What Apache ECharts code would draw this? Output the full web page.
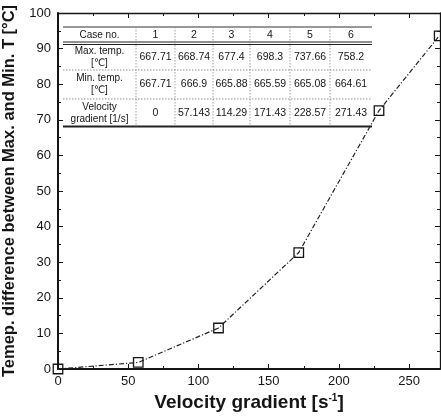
<!DOCTYPE html>
<html>
<head>
<meta charset="utf-8">
<script src="https://cdn.jsdelivr.net/npm/echarts@6/dist/echarts.min.js"></script>
<style>
  html, body { margin: 0; padding: 0; background: #fff; }
  #chart { width: 441px; height: 417px; }
</style>
</head>
<body>
<div id="chart"></div>
<script>
// Case table data
var caseNo = ['1', '2', '3', '4', '5', '6'];
var maxTemp = [667.71, 668.74, 677.4, 698.3, 737.66, 758.2];
var minTemp = [667.71, 666.9, 665.88, 665.59, 665.08, 664.61];
var velocityGradient = [0, 57.143, 114.29, 171.43, 228.57, 271.43];
// Temperature difference between max and min for each case
var tempDiff = [0, 1.84, 11.52, 32.71, 72.58, 93.59];
var rowHeads = ['Case no.', 'Max. temp.\n[\u2103]', 'Min. temp.\n[\u2103]', 'Velocity\ngradient [1/s]'];

var FONT = '"Liberation Sans", Arial, "DejaVu Sans", sans-serif';
var INK = '#151515';

// Inset table layout (pixels)
var colEdges = [63, 136, 175, 213, 250, 290, 330, 372];
var rowEdges = [27, 43.5, 70, 99, 126.5];

function buildTable() {
  var els = [];
  var rows = [caseNo, maxTemp.map(String), minTemp.map(String), velocityGradient.map(String)];
  var x0 = colEdges[0], x1 = colEdges[colEdges.length - 1];
  var yTop = rowEdges[0], yBot = rowEdges[rowEdges.length - 1];
  // horizontal rules
  els.push({ type: 'line', shape: { x1: x0, y1: yTop, x2: x1, y2: yTop }, style: { stroke: '#333', lineWidth: 1 } });
  els.push({ type: 'line', shape: { x1: x0, y1: 42, x2: x1, y2: 42 }, style: { stroke: '#222', lineWidth: 1.2 } });
  els.push({ type: 'line', shape: { x1: x0, y1: 44.5, x2: x1, y2: 44.5 }, style: { stroke: '#222', lineWidth: 1.2 } });
  els.push({ type: 'line', shape: { x1: x0, y1: rowEdges[2], x2: x1, y2: rowEdges[2] }, style: { stroke: '#777', lineWidth: 0.8, lineDash: [1.5, 1.5] } });
  els.push({ type: 'line', shape: { x1: x0, y1: rowEdges[3], x2: x1, y2: rowEdges[3] }, style: { stroke: '#777', lineWidth: 0.8, lineDash: [1.5, 1.5] } });
  els.push({ type: 'line', shape: { x1: x0, y1: yBot, x2: x1, y2: yBot }, style: { stroke: '#222', lineWidth: 2 } });
  // vertical dotted separators
  for (var c = 1; c < colEdges.length - 1; c++) {
    els.push({ type: 'line', shape: { x1: colEdges[c], y1: yTop, x2: colEdges[c], y2: yBot - 1 },
      style: { stroke: '#888', lineWidth: 0.8, lineDash: [1.5, 1.5] } });
  }
  // cell texts
  for (var r = 0; r < rows.length; r++) {
    var cy = (rowEdges[r] + rowEdges[r + 1]) / 2;
    els.push({ type: 'text', style: { text: rowHeads[r], x: (colEdges[0] + colEdges[1]) / 2, y: cy,
      align: 'center', verticalAlign: 'middle', font: '10px ' + FONT, fill: INK, lineHeight: 12 } });
    for (var k = 0; k < rows[r].length; k++) {
      els.push({ type: 'text', style: { text: rows[r][k], x: (colEdges[k + 1] + colEdges[k + 2]) / 2, y: cy,
        align: 'center', verticalAlign: 'middle', font: '10.5px ' + FONT, fill: INK } });
    }
  }
  return els;
}

var chart = echarts.init(document.getElementById('chart'), null, { renderer: 'canvas' });

function xAx(pos, withLabel) {
  return {
    type: 'value', position: pos, min: 0, max: 272, interval: 50,
    axisLine: { show: true, onZero: false, lineStyle: { color: INK, width: withLabel ? 2 : 1.3 } },
    axisTick: { show: true, inside: true, length: 5, lineStyle: { color: INK, width: 1 } },
    minorTick: { show: true, splitNumber: 2, length: 3, lineStyle: { color: INK, width: 1 } },
    splitLine: { show: false },
    axisLabel: { show: withLabel, showMaxLabel: false, fontSize: 13, color: INK, fontFamily: FONT, margin: 6 },
    name: withLabel ? '{a|Velocity gradient [s}{s|-1}{a|]}' : '',
    nameLocation: 'middle', nameGap: 23,
    nameTextStyle: {
      rich: {
        a: { fontSize: 19, fontWeight: 'bold', color: INK, fontFamily: FONT },
        s: { fontSize: 10, fontWeight: 'bold', color: INK, fontFamily: FONT, padding: [0, 0, 10, 0] }
      }
    }
  };
}
function yAx(pos, withLabel) {
  return {
    type: 'value', position: pos, min: 0, max: 100, interval: 10,
    axisLine: { show: true, onZero: false, lineStyle: { color: INK, width: withLabel ? 2 : 1.3 } },
    axisTick: { show: true, inside: true, length: 5, lineStyle: { color: INK, width: 1 } },
    minorTick: { show: true, splitNumber: 2, length: 3, lineStyle: { color: INK, width: 1 } },
    splitLine: { show: false },
    axisLabel: { show: withLabel, fontSize: 13, color: INK, fontFamily: FONT, margin: 7 },
    name: withLabel ? 'Temep. difference between Max. and Min. T [\u00B0C]' : '',
    nameLocation: 'middle', nameGap: 35,
    nameTextStyle: { fontSize: 16.5, fontWeight: 'bold', color: INK, fontFamily: FONT }
  };
}

var seriesData = velocityGradient.map(function (v, i) { return [v, tempDiff[i]]; });

chart.setOption({
  animation: false,
  backgroundColor: '#fff',
  grid: { left: 58, right: 1, top: 13, bottom: 48, containLabel: false, outerBoundsMode: 'none' },
  xAxis: [xAx('bottom', true), xAx('top', false)],
  yAxis: [yAx('left', true), yAx('right', false)],
  graphic: buildTable(),
  series: [{
    type: 'line',
    xAxisIndex: 0, yAxisIndex: 0,
    data: seriesData,
    clip: false,
    symbol: 'rect',
    symbolSize: 9.5,
    itemStyle: { color: 'rgba(255,255,255,0)', borderColor: INK, borderWidth: 1.3 },
    lineStyle: { color: '#222', width: 1.2, type: [5, 2, 1.2, 2] },
    z: 5
  }]
});
</script>
</body>
</html>
